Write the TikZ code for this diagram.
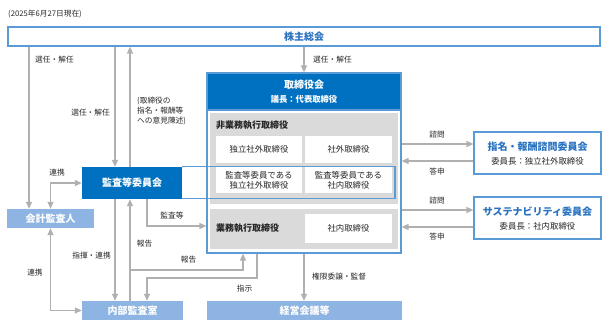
\documentclass[tikz,border=0pt]{standalone}
\usepackage{fontspec}
\setmainfont{Noto Sans CJK JP}
\usetikzlibrary{arrows.meta,calc}
\definecolor{dblue}{HTML}{0070C0}
\definecolor{lblue}{HTML}{8DB4E2}
\definecolor{oblue}{HTML}{5B9BD5}
\definecolor{tblue}{HTML}{2872C0}
\definecolor{agray}{HTML}{B0B0B0}
\definecolor{pgray}{HTML}{DADADA}
\definecolor{txt}{HTML}{262626}
\begin{document}
\begin{tikzpicture}[x=1pt,y=-1pt,
  tip/.tip={Triangle[length=7pt,width=6pt]},
  arr/.style={draw=agray,line width=1.3pt,-tip},
  arrb/.style={draw=agray,line width=1.3pt,tip-tip},
  lbl/.style={font=\fontsize{7.7}{10}\selectfont,text=txt,inner sep=0pt},
  ttl/.style={font=\fontsize{10}{12}\selectfont\bfseries},
  obox/.style={draw=oblue,line width=1.2pt,fill=white,inner sep=0pt},
  lbox/.style={fill=lblue,inner sep=0pt,minimum height=19pt,ttl,text=white},
  wbox/.style={fill=white,inner sep=0pt,align=center,font=\fontsize{8.4}{10}\selectfont,text=txt},
  gpanel/.style={fill=pgray,inner sep=0pt,anchor=north west},
  plbl/.style={font=\fontsize{9}{11}\selectfont\bfseries,text=txt,anchor=west,inner sep=0pt}]
\useasboundingbox (0,0) rectangle (613,333);

% date
\node[lbl,anchor=west] (date) at (8,14) {(2025年6月27日現在)};

% shareholders
\node[obox,minimum width=592pt,minimum height=19pt,ttl,text=tblue] (kabu) at (304,36.5) {株主総会};

% board
\node[obox,minimum width=194pt,minimum height=180pt] (board) at (304,163) {};
\node[fill=dblue,draw=oblue,line width=1.2pt,minimum width=194pt,minimum height=37pt,anchor=north,inner sep=0pt] (hdr) at (board.north) {};
\node[ttl,text=white,inner sep=0pt] (hdrt) at (304,85) {取締役会};
\node[font=\fontsize{8.3}{10}\selectfont\bfseries,text=white,inner sep=0pt] (hdrs) at (304,99) {議長：代表取締役};

\node[gpanel,minimum width=188pt,minimum height=91pt] (ng) at (210,113) {};
\node[plbl] (ngl) at (216,125.5) {非業務執行取締役};
\node[wbox,minimum width=86pt,minimum height=27pt] (b1) at (259,149.5) {独立社外取締役};
\node[wbox,minimum width=87pt,minimum height=27pt] (b2) at (348.5,149.5) {社外取締役};
\node[wbox,minimum width=86pt,minimum height=26pt] (b3) at (259,180) {監査等委員である\\独立社外取締役};
\node[wbox,minimum width=87pt,minimum height=26pt] (b4) at (348.5,180) {監査等委員である\\社内取締役};

\node[gpanel,minimum width=188pt,minimum height=40pt] (eg) at (210,209) {};
\node[plbl] (egl) at (216,228.5) {業務執行取締役};
\node[wbox,minimum width=87pt,minimum height=29pt] (b5) at (348.5,228.5) {社内取締役};

% audit committee
\node[fill=dblue,inner sep=0pt,minimum width=100pt,minimum height=32pt,ttl,text=white] (kansa) at (132,183) {監査等委員会};
\coordinate (xo) at (395,0);
\draw[oblue,line width=1.2pt] ($(kansa.north east)+(0,-0.5)$) -- ($(xo |- kansa.north)+(0,-0.5)$) -- ($(xo |- kansa.south)+(0,-1)$) -- ($(kansa.south east)+(0,-1)$);

% light boxes
\node[lbox,minimum width=87pt] (kaikei) at (50.5,218.5) {会計監査人};
\node[lbox,minimum width=101pt] (naibu) at (132.5,310.5) {内部監査室};
\node[lbox,minimum width=195pt] (keiei) at (304.5,310.5) {経営会議等};

% committees
\node[obox,minimum width=127pt,minimum height=42pt] (shimei) at (537.5,153) {};
\node[ttl,text=tblue,inner sep=0pt] (shimeit) at (537.5,146.5) {指名・報酬諮問委員会};
\node[wbox,fill=none,inner sep=0pt] (shimeis) at (537.5,161) {委員長：独立社外取締役};
\node[obox,minimum width=127pt,minimum height=42pt] (sus) at (537.5,218) {};
\node[ttl,text=tblue,inner sep=0pt] (sust) at (537.5,211.5) {サステナビリティ委員会};
\node[wbox,fill=none,inner sep=0pt] (suss) at (537.5,226.5) {委員長：社内取締役};

% helper coordinates
\coordinate (xa) at (29,0);
\coordinate (xb) at (115,0);
\coordinate (xc) at (130,0);
\coordinate (xf) at (147,0);
\coordinate (xg) at (243,0);
\coordinate (xh) at (257,0);
\coordinate (yr) at (0,270);
\coordinate (yi) at (0,278);
\coordinate (ym) at (0,226);
\coordinate (q1) at ([yshift=9pt]shimei.west);
\coordinate (q2) at ([yshift=-8pt]shimei.west);
\coordinate (q3) at ([yshift=8pt]sus.west);
\coordinate (q4) at ([yshift=-9pt]sus.west);

% connectors
\draw[arr] (kabu.south -| xa) -- (kaikei.north -| xa);
\draw[arr] (kabu.south -| xb) -- (kansa.north -| xb);
\draw[arr] (kansa.north -| xc) -- (kabu.south -| xc);
\draw[arr] (kabu.south -| board.north) -- (board.north);
\draw[arrb] (kaikei.north) |- (kansa.west);
\draw[arrb] (kaikei.south) |- (naibu.west);
\draw[arr] (kansa.south -| xb) -- (naibu.north -| xb);
\draw[arr] (naibu.north -| xc) -- (kansa.south -| xc);
\draw[arr] (yr -| xc) -| (board.south -| xg);
\draw[arr] (board.south -| xh) |- (yi -| xf) -- (naibu.north -| xf);
\draw[arr] (kansa.south -| xf) |- (board.west |- ym);
\draw[arr] (board.south) -- (board.south |- keiei.north);
\draw[arr] (board.east |- q1) -- (q1);
\draw[arr] (q2) -- (board.east |- q2);
\draw[arr] (board.east |- q3) -- (q3);
\draw[arr] (q4) -- (board.east |- q4);

% labels
\node[lbl,anchor=west] (l1) at (35,60) {選任・解任};
\node[lbl,anchor=east] (l2) at (110,113) {選任・解任};
\node[lbl,anchor=north west,align=left] (l3) at (137,97) {(取締役の\\指名・報酬等\\への意見陳述)};
\node[lbl,anchor=west] (l4) at (313,60) {選任・解任};
\node[lbl] (l5) at (57,173) {連携};
\node[lbl] (l6) at (35,273) {連携};
\node[lbl,anchor=east] (l7) at (111,256) {指揮・連携};
\node[lbl] (l8) at (144.5,244) {報告};
\node[lbl] (l9) at (188.5,260) {報告};
\node[lbl] (l10) at (172,216) {監査等};
\node[lbl] (l11) at (244.5,289) {指示};
\node[lbl,anchor=west] (l12) at (312,277) {権限委譲・監督};
\node[lbl] (l13) at (437,135) {諮問};
\node[lbl] (l14) at (437,172) {答申};
\node[lbl] (l15) at (437,201) {諮問};
\node[lbl] (l16) at (437,237) {答申};
\end{tikzpicture}
\end{document}
